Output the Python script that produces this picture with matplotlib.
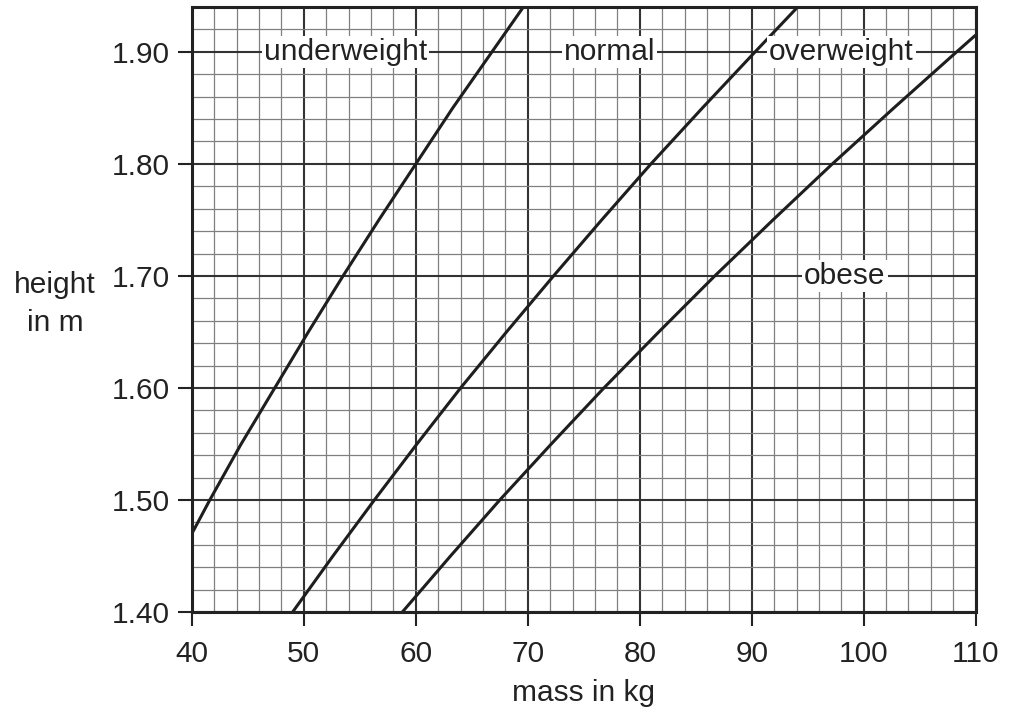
import matplotlib.pyplot as plt
from matplotlib.ticker import MultipleLocator

plt.rcParams['font.family'] = ['Liberation Sans', 'DejaVu Sans']

# boundary curves: (height in m, mass in kg)
under_h = [1.47, 1.50, 1.55, 1.60, 1.65, 1.70, 1.75, 1.80, 1.85, 1.90, 1.94]
under_m = [40.0, 41.6, 44.4, 47.4, 50.4, 53.5, 56.7, 60.0, 63.3, 66.8, 69.6]

normal_h = [1.40, 1.45, 1.50, 1.55, 1.60, 1.65, 1.70, 1.75, 1.80, 1.85, 1.90, 1.94]
normal_m = [49.0, 52.6, 56.3, 60.1, 64.0, 68.1, 72.3, 76.6, 81.0, 85.6, 90.3, 94.1]

over_h = [1.40, 1.45, 1.50, 1.55, 1.60, 1.65, 1.70, 1.75, 1.80, 1.85, 1.90, 1.915]
over_m = [58.8, 63.1, 67.5, 72.1, 76.8, 81.7, 86.7, 91.9, 97.2, 102.7, 108.3, 110.0]

region_names = ['underweight', 'normal', 'overweight', 'obese']
region_x = [53.7, 77.3, 98.0, 98.3]
region_y = [1.90, 1.90, 1.90, 1.70]

x_ticks = [40, 50, 60, 70, 80, 90, 100, 110]
y_ticks = [1.40, 1.50, 1.60, 1.70, 1.80, 1.90]

FS = 21.5
TXT = '#222222'

fig = plt.figure(figsize=(10.1, 7.07), dpi=100)
ax = fig.add_axes([0.190, 0.1344, 0.776, 0.8556])

ax.set_xlim(40, 110)
ax.set_ylim(1.40, 1.94)

ax.set_xticks(x_ticks)
ax.set_yticks(y_ticks)
ax.set_yticklabels(['{:.2f}'.format(v) for v in y_ticks])
ax.xaxis.set_minor_locator(MultipleLocator(2))
ax.yaxis.set_minor_locator(MultipleLocator(0.02))

ax.grid(which='minor', color='#808080', linewidth=0.9)
ax.grid(which='major', color='#333333', linewidth=1.5)
ax.set_axisbelow(True)

ax.tick_params(which='major', direction='out', length=10, width=1.5,
               color=TXT, labelsize=FS, labelcolor=TXT)
ax.tick_params(axis='x', which='major', pad=10)
ax.tick_params(axis='y', which='major', pad=6)
ax.tick_params(which='minor', length=0)

for sp in ax.spines.values():
    sp.set_linewidth(2.2)
    sp.set_color(TXT)

for m, h in [(under_m, under_h), (normal_m, normal_h), (over_m, over_h)]:
    ax.plot(m, h, color='#1e1e1e', linewidth=2.2, solid_capstyle='butt')

for name, x, y in zip(region_names, region_x, region_y):
    ax.text(x, y, name, fontsize=FS, color=TXT, ha='center', va='center',
            bbox=dict(facecolor='white', edgecolor='none', pad=1.5))

fig.text(55 / 1010, 1 - 304 / 707, 'height\nin m', fontsize=FS, color=TXT,
         ha='center', va='center', linespacing=1.45)
ax.set_xlabel('mass in kg', fontsize=FS, color=TXT, labelpad=8)

fig.savefig('out.png', dpi=100)
